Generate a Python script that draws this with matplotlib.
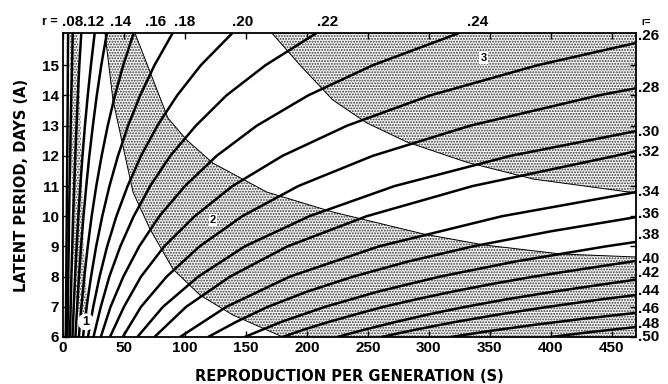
import matplotlib.pyplot as plt

# latent period levels (days) at which the S values of each isoline were read
A_full = [6, 7, 8, 9, 10, 11, 12, 13, 14, 15, 16.07]

# isolines of r that leave through the top edge: S read at each level of A_full
S_r06 = [2.3, 2.5, 2.7, 2.9, 3.1, 3.3, 3.5, 3.7, 3.9, 4.0, 4.2]
S_r08 = [3.7, 4.0, 4.3, 4.7, 5.0, 5.4, 5.9, 6.3, 6.8, 7.4, 8.0]
S_r10 = [5.7, 6.3, 6.9, 7.6, 8.3, 9.2, 10.1, 11.1, 12.2, 13.4, 15.0]
S_r12 = [7.8, 8.8, 9.9, 11.2, 12.6, 14.2, 16.0, 18.0, 20.3, 22.9, 26.0]
S_r14 = [10.2, 11.6, 13.1, 14.8, 16.8, 19.1, 21.6, 24.5, 27.7, 31.4, 36.0]
S_r16 = [13.0, 15.1, 17.5, 20.3, 23.5, 27.3, 31.7, 36.7, 42.6, 49.4, 58.0]
S_r18 = [16.4, 19.4, 23.0, 27.2, 32.2, 38.1, 45.1, 53.4, 63.3, 75.0, 90.0]
S_r20 = [20.5, 24.8, 30.0, 36.2, 43.8, 53.0, 64.0, 77.4, 93.6, 113, 139]
S_r22 = [25, 31, 38, 47, 58, 71.5, 88, 109, 134, 166, 208]
S_r24 = [31, 39, 49.5, 62.5, 79, 100, 126, 159, 201, 254, 325]

# isolines of r that leave through the right edge (S, A)
S_r26 = [38.5, 50, 64, 83, 108, 139, 180, 233, 301, 389, 470]
A_r26 = [6, 7, 8, 9, 10, 11, 12, 13, 14, 15, 15.74]
S_r28 = [49, 64, 85, 112, 147, 193, 254, 334, 439, 470]
A_r28 = [6, 7, 8, 9, 10, 11, 12, 13, 14, 14.24]
S_r30 = [61, 82, 111, 149, 202, 272, 367, 470]
A_r30 = [6, 7, 8, 9, 10, 11, 12, 12.82]
S_r32 = [75, 101, 137, 184, 249, 336, 453, 470]
A_r32 = [6, 7, 8, 9, 10, 11, 12, 12.16]
S_r34 = [96, 134, 186, 259, 360, 470]
A_r34 = [6, 7, 8, 9, 10, 10.8]
S_r36 = [119, 142, 168, 200, 238, 283, 336, 400, 470]
A_r36 = [6, 6.5, 7, 7.5, 8, 8.5, 9, 9.5, 9.97]
S_r38 = [149, 179, 215, 258, 309, 371, 445, 470]
A_r38 = [6, 6.5, 7, 7.5, 8, 8.5, 9, 9.15]
S_r40 = [180, 198, 218, 240, 263, 290, 319, 351, 386, 426, 470]
A_r40 = [6, 6.25, 6.5, 6.75, 7, 7.25, 7.5, 7.75, 8, 8.25, 8.52]
S_r42 = [225, 248, 273, 300, 330, 364, 402, 444, 470]
A_r42 = [6, 6.25, 6.5, 6.75, 7, 7.25, 7.5, 7.75, 7.9]
S_r44 = [261, 290, 322, 358, 398, 442, 470]
A_r44 = [6, 6.25, 6.5, 6.75, 7, 7.25, 7.39]
S_r46 = [318, 350, 386, 426, 470]
A_r46 = [6, 6.2, 6.4, 6.6, 6.8]
S_r48 = [400, 434, 470]
A_r48 = [6, 6.17, 6.33]

# boundaries of the stippled zones
zone1_S = [5.7, 12.3, 14, 17, 20, 22, 16, 11, 8, 6]
zone1_A = [16.07, 16.07, 13.85, 9, 7, 6.5, 6.5, 7, 9, 13.85]
zone2_low_S = [34.4, 41.0, 57.4, 71.3, 90.2, 112.3, 139.3, 180.3]
zone2_low_A = [16.07, 13.85, 10.80, 9.58, 8.25, 7.39, 6.73, 6.0]
zone2_up_S = [59.0, 86.1, 101.6, 123.0, 167.2, 221.3, 295.9, 345.1, 408.2, 470]
zone2_up_A = [16.07, 13.25, 12.52, 11.76, 10.80, 10.14, 9.41, 9.05, 8.75, 8.65]
zone3_S = [171.3, 194.3, 221.3, 249.2, 282, 331, 386, 470]
zone3_A = [16.07, 15.01, 13.85, 13.09, 12.46, 11.79, 11.23, 10.77]

top_labels = ['.08', '.12', '.14', '.16', '.18', '.20', '.22', '.24']
top_label_S = [7.6, 25.5, 47, 76, 100, 147, 217, 340]
right_labels = ['.26', '.28', '.30', '.32', '.34', '.36', '.38', '.40',
                '.42', '.44', '.46', '.48', '.50']
right_label_A = [15.97, 14.25, 12.79, 12.13, 10.80, 10.07, 9.38, 8.58,
                 8.12, 7.52, 6.93, 6.43, 6.0]

S_max = 470
A_min, A_max = 6, 16.07

plt.rcParams['font.family'] = ['Liberation Sans', 'DejaVu Sans']
plt.rcParams['hatch.linewidth'] = 0.9
plt.rcParams['hatch.color'] = '#3a3a3a'

fig = plt.figure(figsize=(6.68, 3.84), dpi=100)
ax = fig.add_axes([0.0943, 0.1224, 0.8578, 0.7917])

# stippled zones
stip = dict(facecolor='#f2f2f2', hatch='......', edgecolor='#3a3a3a', lw=0)
ax.fill(zone1_S, zone1_A, **stip)
z2_S = zone2_low_S + [S_max] + zone2_up_S[::-1]
z2_A = zone2_low_A + [A_min] + zone2_up_A[::-1]
ax.fill(z2_S, z2_A, **stip)
ax.fill(zone3_S + [S_max], zone3_A + [A_max], **stip)

ax.plot(zone2_low_S, zone2_low_A, color='black', lw=0.7)
ax.plot(zone2_up_S, zone2_up_A, color='black', lw=0.7)
ax.plot(zone3_S, zone3_A, color='black', lw=0.7)

# isolines
for S in [S_r06, S_r08, S_r10, S_r12, S_r14, S_r16, S_r18, S_r20, S_r22, S_r24]:
    ax.plot(S, A_full, color='black', lw=1.8, solid_capstyle='butt')
for S, A in [(S_r26, A_r26), (S_r28, A_r28), (S_r30, A_r30), (S_r32, A_r32),
             (S_r34, A_r34), (S_r36, A_r36), (S_r38, A_r38), (S_r40, A_r40),
             (S_r42, A_r42), (S_r44, A_r44), (S_r46, A_r46), (S_r48, A_r48)]:
    ax.plot(S, A, color='black', lw=1.8, solid_capstyle='butt')

ax.set_xlim(0, S_max)
ax.set_ylim(A_min, A_max)
ax.set_xticks(range(0, 451, 50))
ax.set_yticks(range(6, 16))
ax.tick_params(direction='in', top=True, right=True, length=4, width=1,
               labelsize=11, pad=3)
for lab in ax.get_xticklabels() + ax.get_yticklabels():
    lab.set_fontweight('bold')
for sp in ax.spines.values():
    sp.set_linewidth(1.3)

ax.set_xlabel('REPRODUCTION PER GENERATION (S)', fontsize=10.5, fontweight='bold',
              family='DejaVu Sans', labelpad=10)
ax.set_ylabel('LATENT PERIOD, DAYS (A)', fontsize=10.5, fontweight='bold',
              family='DejaVu Sans', labelpad=9)

# r labels
ax.text(-4, 16.45, 'r =', ha='right', va='center', fontsize=9, fontweight='bold', clip_on=False)
for t, s in zip(top_labels, top_label_S):
    ax.text(s, 16.45, t, ha='center', va='center', fontsize=11, fontweight='bold', clip_on=False)
ax.text(474, 16.45, 'r=', ha='left', va='center', fontsize=7, fontweight='bold', clip_on=False)
for t, a in zip(right_labels, right_label_A):
    ax.text(472, a, t, ha='left', va='center', fontsize=11, fontweight='bold', clip_on=False)

# zone numbers
ax.text(19, 6.5, '1', ha='center', va='center', fontsize=9, fontweight='bold', zorder=5,
        bbox=dict(boxstyle='circle,pad=0.2', facecolor='white', edgecolor='none'))
ax.text(123, 9.87, '2', ha='center', va='center', fontsize=8, fontweight='bold',
        bbox=dict(boxstyle='square,pad=0.1', facecolor='white', edgecolor='none'))
ax.text(345, 15.24, '3', ha='center', va='center', fontsize=8, fontweight='bold',
        bbox=dict(boxstyle='square,pad=0.1', facecolor='white', edgecolor='none'))

fig.savefig('out.png', dpi=100)
